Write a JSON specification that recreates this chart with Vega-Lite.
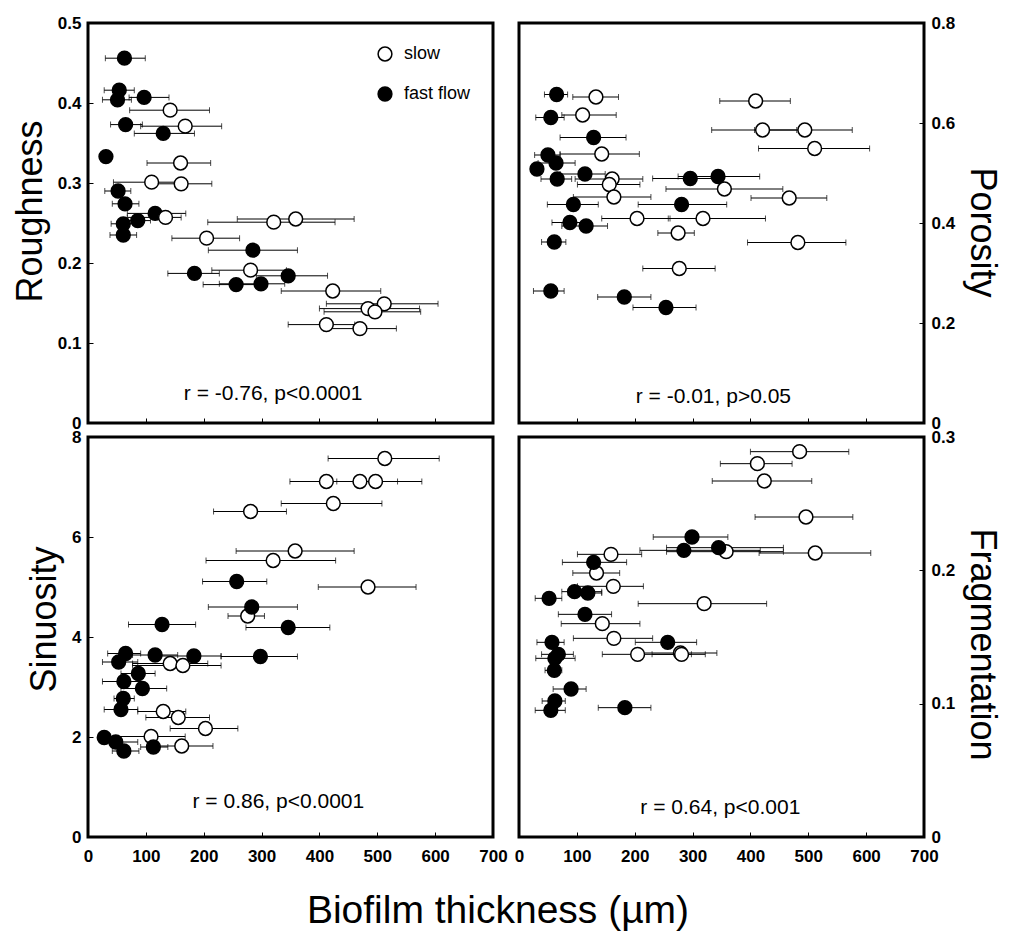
{
  "$schema": "https://vega.github.io/schema/vega-lite/v6.json",
  "background": "white",
  "padding": {"left": 10, "top": 12, "right": 5, "bottom": 2},
  "data": {"values": [
    {"p":"Roughness","f":"fast flow","t":63,"lo":30,"hi":99,"v":0.456},
    {"p":"Roughness","f":"fast flow","t":54,"lo":28,"hi":80,"v":0.416},
    {"p":"Roughness","f":"fast flow","t":51,"lo":25,"hi":75,"v":0.404},
    {"p":"Roughness","f":"fast flow","t":97,"lo":71,"hi":140,"v":0.407},
    {"p":"Roughness","f":"fast flow","t":65,"lo":39,"hi":94,"v":0.373},
    {"p":"Roughness","f":"fast flow","t":130,"lo":80,"hi":184,"v":0.362},
    {"p":"Roughness","f":"fast flow","t":31,"lo":27,"hi":35,"v":0.333},
    {"p":"Roughness","f":"fast flow","t":52,"lo":29,"hi":74,"v":0.29},
    {"p":"Roughness","f":"fast flow","t":64,"lo":42,"hi":88,"v":0.274},
    {"p":"Roughness","f":"fast flow","t":116,"lo":68,"hi":169,"v":0.262},
    {"p":"Roughness","f":"fast flow","t":86,"lo":62,"hi":108,"v":0.253},
    {"p":"Roughness","f":"fast flow","t":61,"lo":40,"hi":82,"v":0.249},
    {"p":"Roughness","f":"fast flow","t":61,"lo":38,"hi":84,"v":0.235},
    {"p":"Roughness","f":"fast flow","t":285,"lo":208,"hi":362,"v":0.216},
    {"p":"Roughness","f":"fast flow","t":184,"lo":138,"hi":227,"v":0.187},
    {"p":"Roughness","f":"fast flow","t":346,"lo":291,"hi":414,"v":0.184},
    {"p":"Roughness","f":"fast flow","t":256,"lo":199,"hi":299,"v":0.173},
    {"p":"Roughness","f":"fast flow","t":299,"lo":227,"hi":340,"v":0.174},
    {"p":"Roughness","f":"slow","t":142,"lo":72,"hi":210,"v":0.391},
    {"p":"Roughness","f":"slow","t":168,"lo":91,"hi":231,"v":0.371},
    {"p":"Roughness","f":"slow","t":160,"lo":102,"hi":212,"v":0.325},
    {"p":"Roughness","f":"slow","t":110,"lo":44,"hi":155,"v":0.301},
    {"p":"Roughness","f":"slow","t":161,"lo":109,"hi":214,"v":0.299},
    {"p":"Roughness","f":"slow","t":134,"lo":68,"hi":161,"v":0.257},
    {"p":"Roughness","f":"slow","t":321,"lo":207,"hi":427,"v":0.251},
    {"p":"Roughness","f":"slow","t":359,"lo":258,"hi":460,"v":0.255},
    {"p":"Roughness","f":"slow","t":205,"lo":145,"hi":262,"v":0.231},
    {"p":"Roughness","f":"slow","t":281,"lo":214,"hi":343,"v":0.191},
    {"p":"Roughness","f":"slow","t":423,"lo":334,"hi":506,"v":0.165},
    {"p":"Roughness","f":"slow","t":512,"lo":412,"hi":605,"v":0.149},
    {"p":"Roughness","f":"slow","t":484,"lo":400,"hi":573,"v":0.143},
    {"p":"Roughness","f":"slow","t":496,"lo":408,"hi":575,"v":0.139},
    {"p":"Roughness","f":"slow","t":412,"lo":346,"hi":461,"v":0.123},
    {"p":"Roughness","f":"slow","t":470,"lo":408,"hi":533,"v":0.118},

    {"p":"Porosity","f":"fast flow","t":65,"lo":44,"hi":84,"v":0.657},
    {"p":"Porosity","f":"fast flow","t":55,"lo":29,"hi":78,"v":0.611},
    {"p":"Porosity","f":"fast flow","t":129,"lo":71,"hi":185,"v":0.571},
    {"p":"Porosity","f":"fast flow","t":50,"lo":27,"hi":71,"v":0.536},
    {"p":"Porosity","f":"fast flow","t":64,"lo":33,"hi":97,"v":0.52},
    {"p":"Porosity","f":"fast flow","t":31,"lo":27,"hi":40,"v":0.508},
    {"p":"Porosity","f":"fast flow","t":114,"lo":71,"hi":149,"v":0.498},
    {"p":"Porosity","f":"fast flow","t":66,"lo":38,"hi":91,"v":0.488},
    {"p":"Porosity","f":"fast flow","t":296,"lo":231,"hi":345,"v":0.489},
    {"p":"Porosity","f":"fast flow","t":344,"lo":275,"hi":416,"v":0.493},
    {"p":"Porosity","f":"fast flow","t":94,"lo":49,"hi":137,"v":0.437},
    {"p":"Porosity","f":"fast flow","t":281,"lo":206,"hi":359,"v":0.437},
    {"p":"Porosity","f":"fast flow","t":88,"lo":57,"hi":120,"v":0.401},
    {"p":"Porosity","f":"fast flow","t":116,"lo":74,"hi":153,"v":0.394},
    {"p":"Porosity","f":"fast flow","t":61,"lo":39,"hi":81,"v":0.362},
    {"p":"Porosity","f":"fast flow","t":55,"lo":25,"hi":78,"v":0.264},
    {"p":"Porosity","f":"fast flow","t":182,"lo":136,"hi":228,"v":0.252},
    {"p":"Porosity","f":"fast flow","t":254,"lo":197,"hi":306,"v":0.231},
    {"p":"Porosity","f":"slow","t":133,"lo":93,"hi":172,"v":0.652},
    {"p":"Porosity","f":"slow","t":110,"lo":74,"hi":168,"v":0.616},
    {"p":"Porosity","f":"slow","t":409,"lo":347,"hi":469,"v":0.644},
    {"p":"Porosity","f":"slow","t":421,"lo":333,"hi":480,"v":0.586},
    {"p":"Porosity","f":"slow","t":494,"lo":407,"hi":576,"v":0.586},
    {"p":"Porosity","f":"slow","t":511,"lo":414,"hi":606,"v":0.549},
    {"p":"Porosity","f":"slow","t":143,"lo":71,"hi":208,"v":0.538},
    {"p":"Porosity","f":"slow","t":161,"lo":97,"hi":214,"v":0.488},
    {"p":"Porosity","f":"slow","t":156,"lo":101,"hi":209,"v":0.477},
    {"p":"Porosity","f":"slow","t":355,"lo":254,"hi":456,"v":0.468},
    {"p":"Porosity","f":"slow","t":164,"lo":94,"hi":228,"v":0.452},
    {"p":"Porosity","f":"slow","t":467,"lo":401,"hi":532,"v":0.45},
    {"p":"Porosity","f":"slow","t":204,"lo":143,"hi":261,"v":0.409},
    {"p":"Porosity","f":"slow","t":318,"lo":258,"hi":426,"v":0.409},
    {"p":"Porosity","f":"slow","t":275,"lo":240,"hi":303,"v":0.38},
    {"p":"Porosity","f":"slow","t":482,"lo":395,"hi":565,"v":0.361},
    {"p":"Porosity","f":"slow","t":277,"lo":214,"hi":339,"v":0.309},

    {"p":"Sinuosity","f":"slow","t":513,"lo":415,"hi":607,"v":7.57},
    {"p":"Sinuosity","f":"slow","t":412,"lo":349,"hi":470,"v":7.11},
    {"p":"Sinuosity","f":"slow","t":470,"lo":410,"hi":535,"v":7.11},
    {"p":"Sinuosity","f":"slow","t":497,"lo":430,"hi":577,"v":7.11},
    {"p":"Sinuosity","f":"slow","t":424,"lo":334,"hi":508,"v":6.67},
    {"p":"Sinuosity","f":"slow","t":281,"lo":217,"hi":343,"v":6.51},
    {"p":"Sinuosity","f":"slow","t":358,"lo":256,"hi":460,"v":5.72},
    {"p":"Sinuosity","f":"slow","t":320,"lo":204,"hi":428,"v":5.53},
    {"p":"Sinuosity","f":"slow","t":484,"lo":398,"hi":567,"v":5.0},
    {"p":"Sinuosity","f":"slow","t":276,"lo":242,"hi":305,"v":4.42},
    {"p":"Sinuosity","f":"slow","t":142,"lo":77,"hi":207,"v":3.47},
    {"p":"Sinuosity","f":"slow","t":164,"lo":77,"hi":230,"v":3.43},
    {"p":"Sinuosity","f":"slow","t":130,"lo":86,"hi":169,"v":2.51},
    {"p":"Sinuosity","f":"slow","t":156,"lo":100,"hi":210,"v":2.39},
    {"p":"Sinuosity","f":"slow","t":203,"lo":142,"hi":259,"v":2.17},
    {"p":"Sinuosity","f":"slow","t":109,"lo":39,"hi":168,"v":2.01},
    {"p":"Sinuosity","f":"slow","t":162,"lo":120,"hi":216,"v":1.82},
    {"p":"Sinuosity","f":"fast flow","t":257,"lo":198,"hi":309,"v":5.11},
    {"p":"Sinuosity","f":"fast flow","t":283,"lo":208,"hi":362,"v":4.6},
    {"p":"Sinuosity","f":"fast flow","t":128,"lo":70,"hi":186,"v":4.25},
    {"p":"Sinuosity","f":"fast flow","t":346,"lo":273,"hi":418,"v":4.19},
    {"p":"Sinuosity","f":"fast flow","t":65,"lo":34,"hi":91,"v":3.67},
    {"p":"Sinuosity","f":"fast flow","t":116,"lo":77,"hi":155,"v":3.64},
    {"p":"Sinuosity","f":"fast flow","t":183,"lo":114,"hi":230,"v":3.62},
    {"p":"Sinuosity","f":"fast flow","t":298,"lo":230,"hi":362,"v":3.61},
    {"p":"Sinuosity","f":"fast flow","t":53,"lo":25,"hi":86,"v":3.5},
    {"p":"Sinuosity","f":"fast flow","t":87,"lo":57,"hi":116,"v":3.27},
    {"p":"Sinuosity","f":"fast flow","t":62,"lo":25,"hi":91,"v":3.11},
    {"p":"Sinuosity","f":"fast flow","t":94,"lo":57,"hi":136,"v":2.97},
    {"p":"Sinuosity","f":"fast flow","t":61,"lo":45,"hi":80,"v":2.77},
    {"p":"Sinuosity","f":"fast flow","t":57,"lo":28,"hi":86,"v":2.55},
    {"p":"Sinuosity","f":"fast flow","t":28,"lo":19,"hi":39,"v":1.99},
    {"p":"Sinuosity","f":"fast flow","t":48,"lo":39,"hi":86,"v":1.9},
    {"p":"Sinuosity","f":"fast flow","t":62,"lo":42,"hi":88,"v":1.72},
    {"p":"Sinuosity","f":"fast flow","t":113,"lo":91,"hi":138,"v":1.8},

    {"p":"Fragmentation","f":"slow","t":485,"lo":400,"hi":570,"v":0.289},
    {"p":"Fragmentation","f":"slow","t":412,"lo":348,"hi":472,"v":0.28},
    {"p":"Fragmentation","f":"slow","t":424,"lo":334,"hi":506,"v":0.267},
    {"p":"Fragmentation","f":"slow","t":496,"lo":408,"hi":577,"v":0.24},
    {"p":"Fragmentation","f":"slow","t":159,"lo":101,"hi":212,"v":0.212},
    {"p":"Fragmentation","f":"slow","t":358,"lo":255,"hi":457,"v":0.214},
    {"p":"Fragmentation","f":"slow","t":512,"lo":415,"hi":608,"v":0.213},
    {"p":"Fragmentation","f":"slow","t":134,"lo":93,"hi":174,"v":0.198},
    {"p":"Fragmentation","f":"slow","t":163,"lo":101,"hi":215,"v":0.188},
    {"p":"Fragmentation","f":"slow","t":320,"lo":206,"hi":428,"v":0.175},
    {"p":"Fragmentation","f":"slow","t":144,"lo":73,"hi":209,"v":0.16},
    {"p":"Fragmentation","f":"slow","t":164,"lo":94,"hi":231,"v":0.149},
    {"p":"Fragmentation","f":"slow","t":205,"lo":144,"hi":298,"v":0.137},
    {"p":"Fragmentation","f":"slow","t":279,"lo":212,"hi":342,"v":0.138},
    {"p":"Fragmentation","f":"slow","t":281,"lo":230,"hi":322,"v":0.137},
    {"p":"Fragmentation","f":"fast flow","t":299,"lo":232,"hi":361,"v":0.225},
    {"p":"Fragmentation","f":"fast flow","t":285,"lo":209,"hi":417,"v":0.215},
    {"p":"Fragmentation","f":"fast flow","t":345,"lo":255,"hi":457,"v":0.217},
    {"p":"Fragmentation","f":"fast flow","t":129,"lo":75,"hi":186,"v":0.206},
    {"p":"Fragmentation","f":"fast flow","t":96,"lo":74,"hi":143,"v":0.184},
    {"p":"Fragmentation","f":"fast flow","t":119,"lo":85,"hi":143,"v":0.183},
    {"p":"Fragmentation","f":"fast flow","t":52,"lo":28,"hi":74,"v":0.179},
    {"p":"Fragmentation","f":"fast flow","t":114,"lo":68,"hi":160,"v":0.167},
    {"p":"Fragmentation","f":"fast flow","t":257,"lo":201,"hi":307,"v":0.146},
    {"p":"Fragmentation","f":"fast flow","t":57,"lo":31,"hi":78,"v":0.146},
    {"p":"Fragmentation","f":"fast flow","t":68,"lo":39,"hi":94,"v":0.137},
    {"p":"Fragmentation","f":"fast flow","t":62,"lo":29,"hi":97,"v":0.134},
    {"p":"Fragmentation","f":"fast flow","t":61,"lo":45,"hi":74,"v":0.125},
    {"p":"Fragmentation","f":"fast flow","t":90,"lo":59,"hi":116,"v":0.111},
    {"p":"Fragmentation","f":"fast flow","t":62,"lo":40,"hi":80,"v":0.102},
    {"p":"Fragmentation","f":"fast flow","t":55,"lo":28,"hi":80,"v":0.095},
    {"p":"Fragmentation","f":"fast flow","t":183,"lo":137,"hi":228,"v":0.097}
  ]},
  "columns": 2,
  "spacing": {"row": -7, "column": 3},
  "resolve": {"legend": {"fill": "independent"}},
  "concat": [
    {
      "width": 405, "height": 400,
      "layer": [
        {"transform": [{"filter": "datum.p === 'Roughness'"}],
         "mark": {"type": "errorbar", "color": "black", "thickness": 1, "ticks": {"size": 6}},
         "encoding": {
           "x": {"field": "lo", "type": "quantitative", "scale": {"domain": [0, 700]}, "axis": {"orient": "bottom", "title": null, "labels": false, "values": [0,100,200,300,400,500,600,700]}},
           "x2": {"field": "hi"},
           "y": {"field": "v", "type": "quantitative", "scale": {"domain": [0, 0.5]}, "axis": {"orient": "left", "title": "Roughness", "titleY": 188, "values": [0,0.1,0.2,0.3,0.4,0.5], "format": "~g"}}
         }},
        {"transform": [{"filter": "datum.p === 'Roughness'"}],
         "mark": {"type": "point", "shape": "circle", "filled": true, "size": 190, "stroke": "black", "strokeWidth": 1.5, "opacity": 1},
         "encoding": {
           "x": {"field": "t", "type": "quantitative", "scale": {"domain": [0, 700]}, "axis": {"orient": "bottom", "title": null, "labels": false, "values": [0,100,200,300,400,500,600,700]}},
           "y": {"field": "v", "type": "quantitative", "scale": {"domain": [0, 0.5]}, "axis": {"orient": "left", "title": "Roughness", "titleY": 188, "values": [0,0.1,0.2,0.3,0.4,0.5], "format": "~g"}},
           "fill": {"field": "f", "type": "nominal", "scale": {"domain": ["slow", "fast flow"], "range": ["white", "black"]},
             "legend": {"orient": "top-right", "title": null, "offset": 22, "symbolType": "circle", "symbolSize": 190, "symbolStrokeColor": "black", "symbolStrokeWidth": 1.5, "labelFont": "Liberation Sans", "labelFontSize": 18, "labelColor": "black", "labelOffset": 10, "rowPadding": 20}}
         }},
        {"data": {"values": [{"s": "r = -0.76, p<0.0001"}]},
         "mark": {"type": "text", "font": "Liberation Sans", "fontSize": 21, "color": "black"},
         "encoding": {"x": {"datum": 320}, "y": {"datum": 0.036}, "text": {"field": "s"}}}
      ]
    },
    {
      "width": 405, "height": 400,
      "layer": [
        {"transform": [{"filter": "datum.p === 'Porosity'"}],
         "mark": {"type": "errorbar", "color": "black", "thickness": 1, "ticks": {"size": 6}},
         "encoding": {
           "x": {"field": "lo", "type": "quantitative", "scale": {"domain": [0, 700]}, "axis": {"orient": "bottom", "title": null, "labels": false, "values": [0,100,200,300,400,500,600,700]}},
           "x2": {"field": "hi"},
           "y": {"field": "v", "type": "quantitative", "scale": {"domain": [0, 0.8]}, "axis": {"orient": "right", "title": "Porosity", "titleY": 209, "values": [0,0.2,0.4,0.6,0.8], "format": "~g"}}
         }},
        {"transform": [{"filter": "datum.p === 'Porosity'"}],
         "mark": {"type": "point", "shape": "circle", "filled": true, "size": 190, "stroke": "black", "strokeWidth": 1.5, "opacity": 1},
         "encoding": {
           "x": {"field": "t", "type": "quantitative", "scale": {"domain": [0, 700]}, "axis": {"orient": "bottom", "title": null, "labels": false, "values": [0,100,200,300,400,500,600,700]}},
           "y": {"field": "v", "type": "quantitative", "scale": {"domain": [0, 0.8]}, "axis": {"orient": "right", "title": "Porosity", "titleY": 209, "values": [0,0.2,0.4,0.6,0.8], "format": "~g"}},
           "fill": {"field": "f", "type": "nominal", "scale": {"domain": ["slow", "fast flow"], "range": ["white", "black"]}, "legend": null}
         }},
        {"data": {"values": [{"s": "r = -0.01, p>0.05"}]},
         "mark": {"type": "text", "font": "Liberation Sans", "fontSize": 21, "color": "black"},
         "encoding": {"x": {"datum": 336}, "y": {"datum": 0.053}, "text": {"field": "s"}}}
      ]
    },
    {
      "width": 405, "height": 400,
      "layer": [
        {"transform": [{"filter": "datum.p === 'Sinuosity'"}],
         "mark": {"type": "errorbar", "color": "black", "thickness": 1, "ticks": {"size": 6}},
         "encoding": {
           "x": {"field": "lo", "type": "quantitative", "scale": {"domain": [0, 700]}, "axis": {"orient": "bottom", "title": null, "labelPadding": 16, "values": [0,100,200,300,400,500,600,700]}},
           "x2": {"field": "hi"},
           "y": {"field": "v", "type": "quantitative", "scale": {"domain": [0, 8]}, "axis": {"orient": "left", "title": "Sinuosity", "titleY": 182, "values": [0,2,4,6,8]}}
         }},
        {"transform": [{"filter": "datum.p === 'Sinuosity'"}],
         "mark": {"type": "point", "shape": "circle", "filled": true, "size": 190, "stroke": "black", "strokeWidth": 1.5, "opacity": 1},
         "encoding": {
           "x": {"field": "t", "type": "quantitative", "scale": {"domain": [0, 700]}, "axis": {"orient": "bottom", "title": null, "labelPadding": 16, "values": [0,100,200,300,400,500,600,700]}},
           "y": {"field": "v", "type": "quantitative", "scale": {"domain": [0, 8]}, "axis": {"orient": "left", "title": "Sinuosity", "titleY": 182, "values": [0,2,4,6,8]}},
           "fill": {"field": "f", "type": "nominal", "scale": {"domain": ["slow", "fast flow"], "range": ["white", "black"]}, "legend": null}
         }},
        {"data": {"values": [{"s": "r = 0.86, p<0.0001"}]},
         "mark": {"type": "text", "font": "Liberation Sans", "fontSize": 21, "color": "black"},
         "encoding": {"x": {"datum": 329}, "y": {"datum": 0.7}, "text": {"field": "s"}}}
      ]
    },
    {
      "width": 405, "height": 400,
      "layer": [
        {"transform": [{"filter": "datum.p === 'Fragmentation'"}],
         "mark": {"type": "errorbar", "color": "black", "thickness": 1, "ticks": {"size": 6}},
         "encoding": {
           "x": {"field": "lo", "type": "quantitative", "scale": {"domain": [0, 700]}, "axis": {"orient": "bottom", "title": null, "labelPadding": 16, "values": [0,100,200,300,400,500,600,700]}},
           "x2": {"field": "hi"},
           "y": {"field": "v", "type": "quantitative", "scale": {"domain": [0, 0.3]}, "axis": {"orient": "right", "title": "Fragmentation", "titleY": 207, "values": [0,0.1,0.2,0.3], "format": "~g"}}
         }},
        {"transform": [{"filter": "datum.p === 'Fragmentation'"}],
         "mark": {"type": "point", "shape": "circle", "filled": true, "size": 190, "stroke": "black", "strokeWidth": 1.5, "opacity": 1},
         "encoding": {
           "x": {"field": "t", "type": "quantitative", "scale": {"domain": [0, 700]}, "axis": {"orient": "bottom", "title": null, "labelPadding": 16, "values": [0,100,200,300,400,500,600,700]}},
           "y": {"field": "v", "type": "quantitative", "scale": {"domain": [0, 0.3]}, "axis": {"orient": "right", "title": "Fragmentation", "titleY": 207, "values": [0,0.1,0.2,0.3], "format": "~g"}},
           "fill": {"field": "f", "type": "nominal", "scale": {"domain": ["slow", "fast flow"], "range": ["white", "black"]}, "legend": null}
         }},
        {"data": {"values": [{"s": "r = 0.64, p<0.001"}]},
         "mark": {"type": "text", "font": "Liberation Sans", "fontSize": 21, "color": "black"},
         "encoding": {"x": {"datum": 348}, "y": {"datum": 0.022}, "text": {"field": "s"}}}
      ]
    }
  ],
  "title": {"text": "Biofilm thickness (µm)", "orient": "bottom", "anchor": "middle", "font": "Liberation Sans", "fontSize": 39, "fontWeight": "normal", "color": "black", "offset": 26, "dx": -8},
  "config": {
    "view": {"stroke": "black", "strokeWidth": 3},
    "axis": {
      "grid": false, "domain": false, "ticks": true, "tickSize": -5, "tickColor": "black", "tickWidth": 1,
      "labelFont": "Liberation Sans", "labelFontSize": 17, "labelFontWeight": "bold", "labelColor": "black", "labelPadding": 12,
      "labelFlush": false, "labelOverlap": false,
      "titleFont": "Liberation Sans", "titleFontSize": 36, "titleFontWeight": "normal", "titleColor": "black", "titlePadding": 8
    }
  }
}
